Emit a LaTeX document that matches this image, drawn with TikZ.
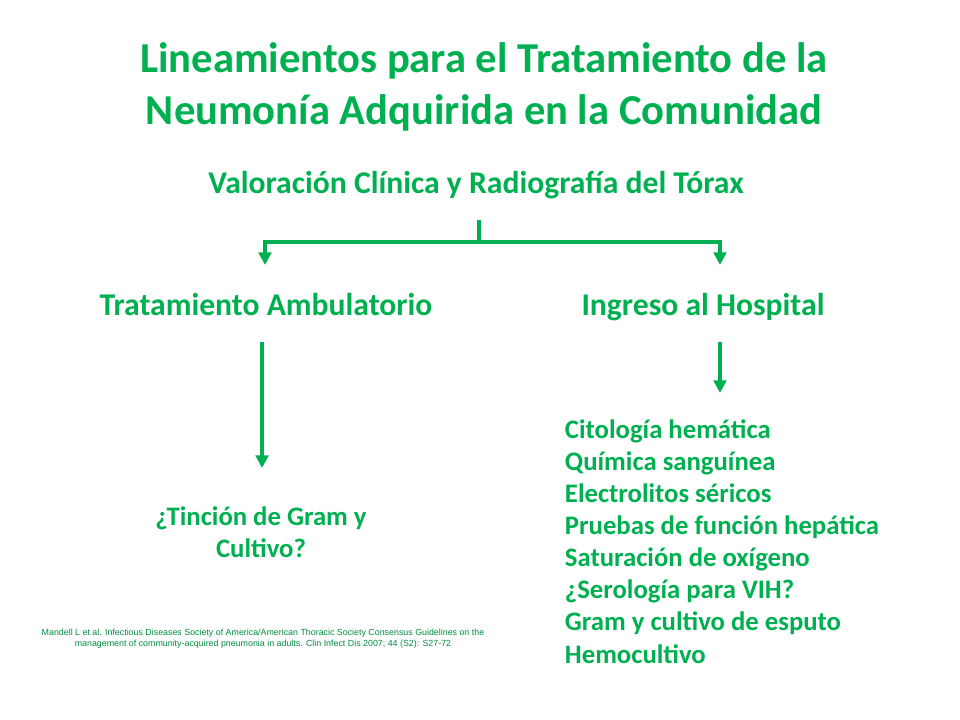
\documentclass[tikz,border=0pt]{standalone}
\usepackage{fontspec}
\setmainfont{Carlito}
\newfontfamily\citefont{Liberation Sans}
\usetikzlibrary{arrows.meta}
\definecolor{leaf}{RGB}{0,176,80}
\tikzset{
  head/.style={text=leaf,font=\bfseries,align=center},
  flow/.style={draw=leaf,line width=2.6pt,-{Triangle[width=9pt,length=9pt]}}
}
\begin{document}
\begin{tikzpicture}[x=0.025cm,y=-0.025cm]
\useasboundingbox (0,0) rectangle (960,720);
\node[head,anchor=base,font=\bfseries\fontsize{30.3}{37.5}\selectfont] (title) at (484,125) {Lineamientos para el Tratamiento de la\\Neumonía Adquirida en la Comunidad};
\node[head,anchor=base,font=\bfseries\fontsize{22.5}{23}\selectfont] (eval) at (476,194) {Valoración Clínica y Radiografía del Tórax};
\node[head,anchor=base,font=\bfseries\fontsize{22.5}{23}\selectfont] (amb) at (266,316) {Tratamiento Ambulatorio};
\node[head,anchor=base,font=\bfseries\fontsize{22.5}{23}\selectfont] (hosp) at (703,316) {Ingreso al Hospital};
\node[head,anchor=base,font=\bfseries\fontsize{19}{22.7}\selectfont] (gram) at (261,557) {¿Tinción de Gram y\\Cultivo?};
\node[head,align=left,anchor=base west,font=\bfseries\fontsize{19}{22.8}\selectfont] (labs) at (560,663)
{Citología hemática\\Química sanguínea\\Electrolitos séricos\\Pruebas de función hepática\\Saturación de oxígeno\\¿Serología para VIH?\\Gram y cultivo de esputo\\Hemocultivo};
\node[text=leaf!80!black,align=center,font=\citefont\fontsize{6.3}{8}\selectfont] (cite) at (263,639)
{Mandell L et al. Infectious Diseases Society of America/American Thoracic Society Consensus Guidelines on the\\management of community-acquired pneumonia in adults. Clin Infect Dis 2007; 44 (S2): S27-72};
% branches
\coordinate (split) at (479,242);
\draw[draw=leaf,line width=2.6pt] (479,220) -- (split);
\draw[flow] (split) -- (265,242) -- (265,265);
\draw[flow] (split) -- (720,242) -- (720,265);
\draw[flow] (262,342) -- (262,468);
\draw[flow] (720,342) -- (720,393);
\end{tikzpicture}
\end{document}
